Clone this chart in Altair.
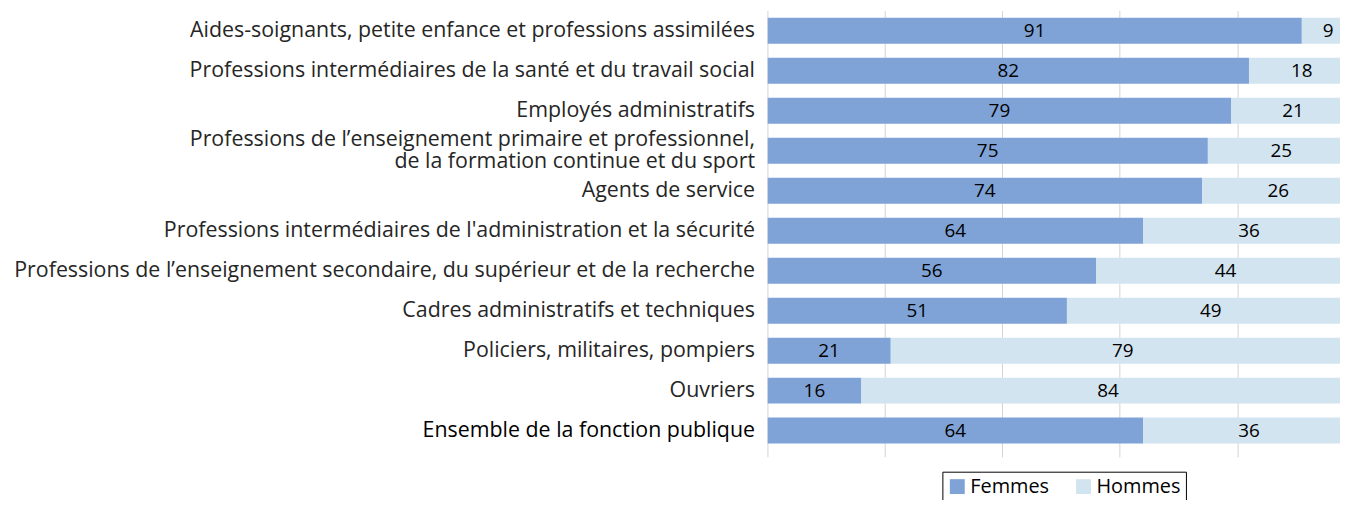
import altair as alt
import pandas as pd

categories = [
    "Aides-soignants, petite enfance et professions assimilées",
    "Professions intermédiaires de la santé et du travail social",
    "Employés administratifs",
    "Professions de l’enseignement primaire et professionnel,\nde la formation continue et du sport",
    "Agents de service",
    "Professions intermédiaires de l'administration et la sécurité",
    "Professions de l’enseignement secondaire, du supérieur et de la recherche",
    "Cadres administratifs et techniques",
    "Policiers, militaires, pompiers",
    "Ouvriers",
    "Ensemble de la fonction publique",
]
femmes = [91, 82, 79, 75, 74, 64, 56, 51, 21, 16, 64]
hommes = [9, 18, 21, 25, 26, 36, 44, 49, 79, 84, 36]
series = ["Femmes", "Hommes"]
colors = ["#7fa3d6", "#d3e4f1"]

rows = []
for c, f, h in zip(categories, femmes, hommes):
    rows.append({"cat": c, "serie": "Femmes", "val": f, "start": 0, "end": f})
    rows.append({"cat": c, "serie": "Hommes", "val": h, "start": f, "end": f + h})
df = pd.DataFrame(rows)
df["mid"] = (df["start"] + df["end"]) / 2

FONT = "Open Sans"

y_enc = alt.Y(
    "cat:N",
    sort=categories,
    scale=alt.Scale(paddingInner=0.35, paddingOuter=0.18),
    axis=alt.Axis(
        title=None,
        ticks=False,
        domain=False,
        labelPadding=13,
        labelLimit=900,
        labelFont=FONT,
        labelFontSize=21.5,
        labelLineHeight=22,
        labelBaseline="middle",
        labelOffset=alt.condition(
            "length(split(datum.label, '\\n')) > 1",
            alt.value(-11),
            alt.value(0),
        ),
        labelColor=alt.condition(
            "datum.label == 'Ensemble de la fonction publique'",
            alt.value("#000000"),
            alt.value("#262626"),
        ),
        labelExpr="split(datum.label, '\\n')",
    ),
)

x_scale = alt.Scale(domain=[0, 97.5], nice=False, zero=True)

bars = alt.Chart(df).mark_bar(clip=True).encode(
    x=alt.X(
        "start:Q",
        scale=x_scale,
        axis=alt.Axis(
            title=None,
            labels=False,
            domain=False,
            grid=True,
            gridColor="#d4d4d4",
            tickColor="#d4d4d4",
            tickSize=6,
            values=[0, 20, 40, 60, 80],
        ),
    ),
    x2="end:Q",
    y=y_enc,
    color=alt.Color(
        "serie:N",
        scale=alt.Scale(domain=series, range=colors),
        legend=alt.Legend(
            title=None,
            orient="none",
            legendX=176,
            legendY=464,
            direction="horizontal",
            symbolType="square",
            symbolSize=225,
            symbolStrokeWidth=0,
            labelFont=FONT,
            labelFontSize=20,
            labelColor="#000000",
            strokeColor="#000000",
            padding=5,
            columnPadding=24,
            labelOffset=3,
        ),
    ),
)

texts = alt.Chart(df).mark_text(
    font=FONT, fontSize=19, color="#000000", baseline="middle", align="center", clip=True
).encode(
    x=alt.X("mid:Q", scale=x_scale),
    y=alt.Y("cat:N", sort=categories),
    text="val:Q",
)

chart = (
    alt.layer(bars, texts)
    .properties(
        width=576,
        height=443,
        autosize=alt.AutoSizeParams(type="none"),
        padding={"left": 764, "top": 1, "right": 0, "bottom": 48},
    )
    .configure_view(stroke=None)
)

chart.save("out.html", embed_options={"renderer": "svg", "actions": False})
